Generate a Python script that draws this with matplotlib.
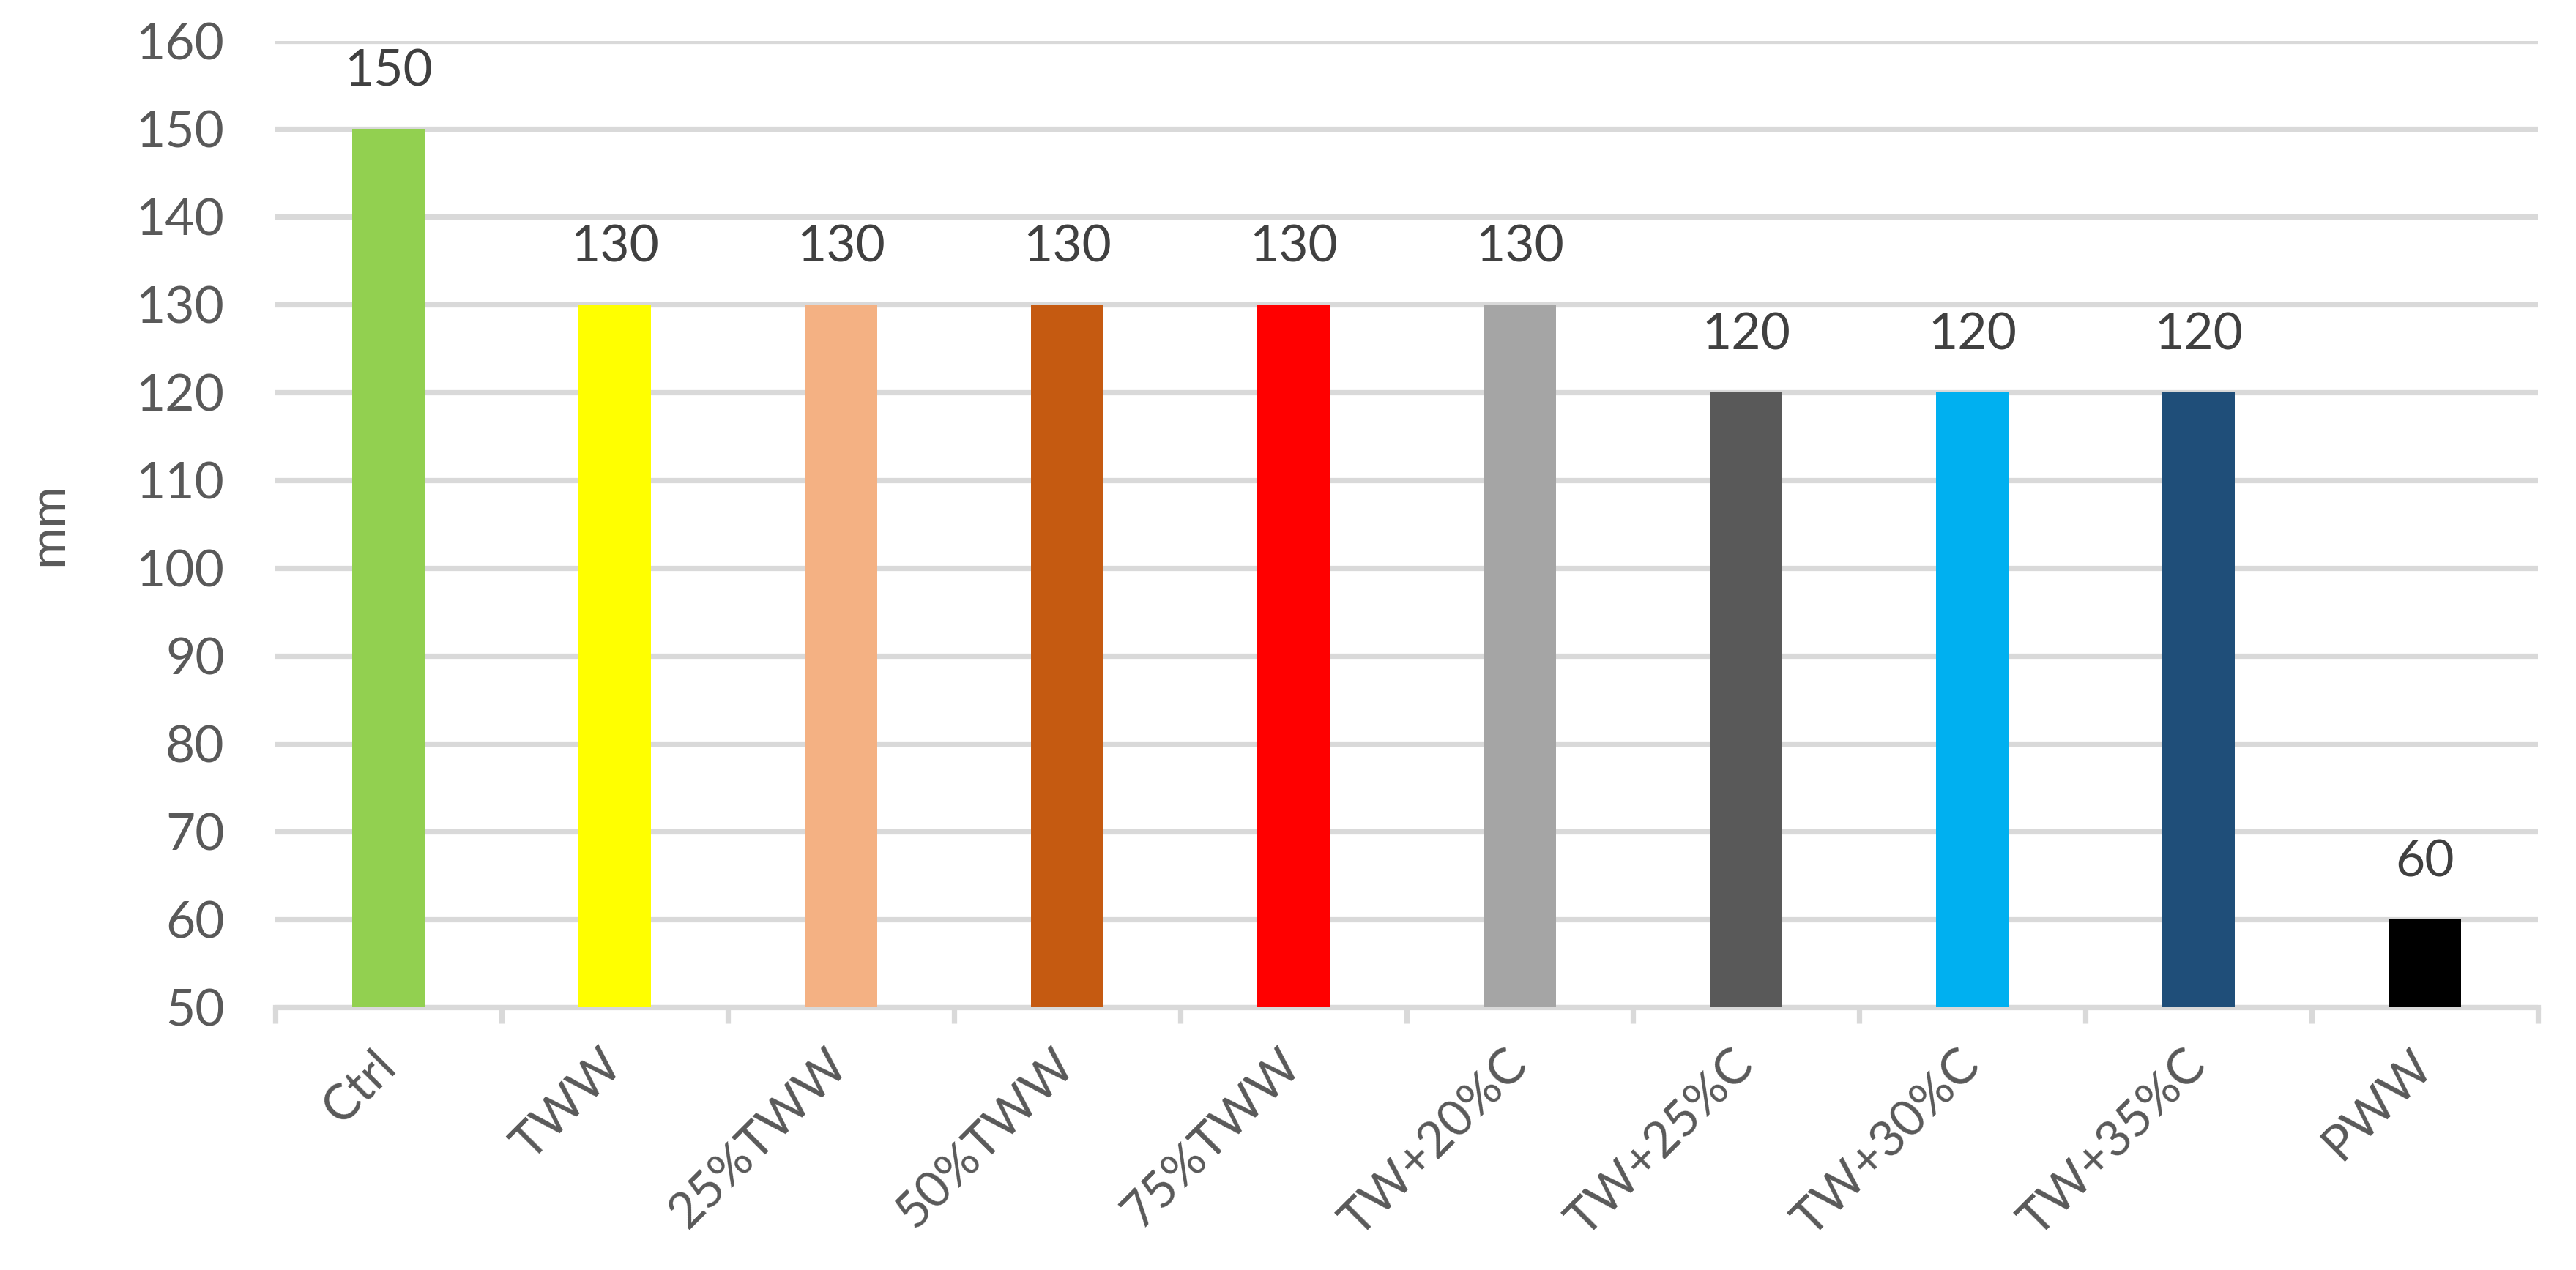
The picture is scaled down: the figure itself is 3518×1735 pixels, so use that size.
import numpy as np
import matplotlib
matplotlib.use('Agg')
import matplotlib.pyplot as plt

plt.rcParams['font.family'] = ['Lato', 'DejaVu Sans']

# data
categories = ['Ctrl', 'TWW', '25%TWW', '50%TWW', '75%TWW',
              'TW+20%C', 'TW+25%C', 'TW+30%C', 'TW+35%C', 'PWW']
values = [150, 130, 130, 130, 130, 130, 120, 120, 120, 60]
bar_colors = ['#92D050', '#FFFF00', '#F4B183', '#C55A11', '#FF0000',
              '#A5A5A5', '#595959', '#00B0F0', '#1F4E79', '#000000']
y_ticks = list(range(50, 161, 10))

grid_col = '#D9D9D9'
fs = 25

fig = plt.figure(figsize=(17.59, 8.675), dpi=200)
ax = fig.add_axes([0.1069, 0.2069, 0.8783, 0.7608])

x = np.arange(len(categories))
base = y_ticks[0]
heights = [v - base for v in values]
ax.bar(x, heights, bottom=base, width=0.32, color=bar_colors, zorder=3)

for xi, v in zip(x, values):
    ax.annotate(str(v), (xi, v), xytext=(0, 21), textcoords='offset points',
                ha='center', va='baseline', fontsize=fs, color='#404040')

ax.set_xlim(-0.5, len(categories) - 0.5)
ax.set_ylim(y_ticks[0], y_ticks[-1])
ax.set_yticks(y_ticks)
ax.yaxis.grid(True, color=grid_col, linewidth=2.6, zorder=0)
ax.set_axisbelow(True)

for s in ['top', 'right', 'left']:
    ax.spines[s].set_visible(False)
ax.spines['bottom'].set_color(grid_col)
ax.spines['bottom'].set_linewidth(2.6)

ax.tick_params(axis='y', length=0, pad=25, labelsize=fs, labelcolor='#595959')

# category boundary ticks
ax.set_xticks(np.arange(len(categories) + 1) - 0.5, minor=True)
ax.tick_params(axis='x', which='minor', length=8, width=2.6, color=grid_col)
ax.set_xticks(x)
ax.set_xticklabels(categories, rotation=45, ha='right', va='center',
                   rotation_mode='anchor', fontsize=24.5, color='#595959')
ax.tick_params(axis='x', which='major', length=0, pad=25)

ax.set_ylabel('mm', fontsize=fs, color='#595959', labelpad=32)

fig.savefig('out.png', dpi=200)
